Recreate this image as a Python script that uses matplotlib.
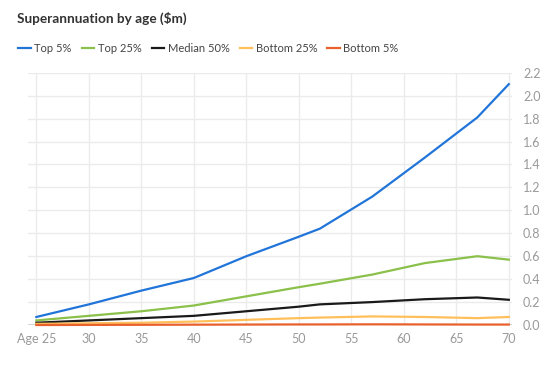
import matplotlib
matplotlib.use("Agg")
import matplotlib.pyplot as plt

ages = [25, 30, 35, 40, 45, 50, 52, 57, 62, 67, 70]
top5 = [0.07, 0.18, 0.30, 0.41, 0.60, 0.77, 0.84, 1.12, 1.46, 1.81, 2.10]
top25 = [0.04, 0.08, 0.12, 0.17, 0.25, 0.33, 0.36, 0.44, 0.54, 0.60, 0.57]
median50 = [0.02, 0.04, 0.06, 0.08, 0.12, 0.16, 0.18, 0.20, 0.225, 0.24, 0.22]
bottom25 = [0.01, 0.015, 0.02, 0.03, 0.045, 0.06, 0.065, 0.075, 0.07, 0.06, 0.07]
bottom5 = [0.0, 0.001, 0.002, 0.003, 0.004, 0.005, 0.005, 0.006, 0.005, 0.004, 0.004]

series_names = ["Top 5%", "Top 25%", "Median 50%", "Bottom 25%", "Bottom 5%"]
series = [top5, top25, median50, bottom25, bottom5]
colors = ["#2175d9", "#8bc04a", "#1a1a1a", "#ffc05c", "#e8602c"]

xticks = [25, 30, 35, 40, 45, 50, 55, 60, 65, 70]
xticklabels = ["Age 25", "30", "35", "40", "45", "50", "55", "60", "65", "70"]
yticks = [0.0, 0.2, 0.4, 0.6, 0.8, 1.0, 1.2, 1.4, 1.6, 1.8, 2.0, 2.2]

plt.rcParams['font.family'] = ['Lato', 'DejaVu Sans']

fig = plt.figure(figsize=(5.54, 3.68), dpi=100)
ax = fig.add_axes([0.0505, 0.1168, 0.8736, 0.6856])

for name, vals, c in zip(series_names, series, colors):
    ax.plot(ages, vals, color=c, lw=1.6, label=name, clip_on=False, zorder=3)

ax.set_xlim(24.2, 70.3)
ax.set_ylim(0, 2.2)
ax.set_xticks(xticks)
ax.set_xticklabels(xticklabels)
ax.set_yticks(yticks)
ax.set_yticklabels([f"{v:.1f}" for v in yticks])
ax.yaxis.tick_right()
ax.tick_params(axis='both', length=0, labelsize=9, labelcolor="#999999")
ax.tick_params(axis='y', pad=8)
ax.tick_params(axis='x', pad=6)
ax.grid(True, color="#ebebeb", lw=1)
ax.set_axisbelow(True)
for s in ax.spines.values():
    s.set_visible(False)
ax.axhline(0, color="#333333", lw=1, zorder=2)

fig.text(0.031, 0.95, "Superannuation by age ($m)", fontsize=9.8, fontweight='bold',
         color="#333333", va='center', ha='left')

handles, labels = ax.get_legend_handles_labels()
fig.legend(handles, labels, loc='center left', bbox_to_anchor=(0.015, 0.868), ncol=5,
           frameon=False, handlelength=1.1, handletextpad=0.35, columnspacing=0.9,
           fontsize=8, labelcolor="#444444")

fig.savefig("out.png", dpi=100)
